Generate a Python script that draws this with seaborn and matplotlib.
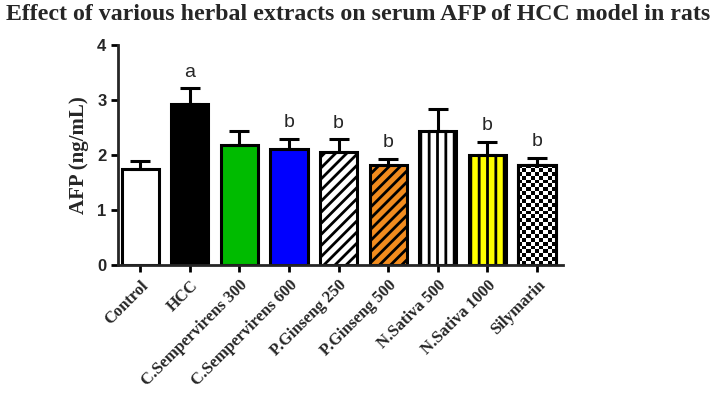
import numpy as np
import matplotlib.pyplot as plt
import seaborn as sns

# Mean AFP and SEM
groups = ['Control', 'HCC', 'C.Sempervirens 300', 'C.Sempervirens 600',
          'P.Ginseng 250', 'P.Ginseng 500', 'N.Sativa 500', 'N.Sativa 1000', 'Silymarin']
afp_mean = [1.74, 2.93, 2.17, 2.10, 2.05, 1.81, 2.44, 2.00, 1.82]
afp_sem = [0.14, 0.28, 0.26, 0.19, 0.23, 0.12, 0.39, 0.24, 0.13]
sig_letters = ['', 'a', '', 'b', 'b', 'b', '', 'b', 'b']

bar_colors = ['white', 'black', '#00BB00', '#0000FF', 'white', '#F28C1E',
              'white', '#FFFF00', 'white']
bar_hatches = [None, None, None, None, '///', '///', '||', '||', None]

sns.set_theme(style="ticks")
plt.rcParams['hatch.linewidth'] = 2.0
plt.rcParams['axes.linewidth'] = 2.0

fig = plt.figure(figsize=(7.17, 3.93), dpi=100)
ax = fig.add_axes([0.165, 0.326, 0.62, 0.56])

sns.barplot(x=groups, y=afp_mean, hue=groups, palette=bar_colors, legend=False,
            width=0.75, edgecolor='black', linewidth=2.2, ax=ax, saturation=1)

centers = []
for p, h in zip(ax.patches, bar_hatches):
    centers.append(p.get_x() + p.get_width() / 2)
    if h:
        p.set_hatch(h)

# checkerboard fill for Silymarin, clipped to its bar
sp = ax.patches[-1]
board = np.indices((26, 9)).sum(axis=0) % 2
img = ax.imshow(board, cmap='gray', interpolation='nearest', aspect='auto',
                extent=(sp.get_x(), sp.get_x() + sp.get_width(), 0, sp.get_height()),
                zorder=sp.get_zorder() + 0.1)
img.set_clip_path(sp)
# redraw edge on top
ax.bar(centers[-1], afp_mean[-1], width=sp.get_width(), fill=False,
       edgecolor='black', linewidth=2.2, zorder=sp.get_zorder() + 0.2)

ax.errorbar(centers, afp_mean, yerr=[np.zeros(len(afp_sem)), afp_sem], fmt='none',
            ecolor='black', elinewidth=2.2, capsize=7, capthick=2.2, zorder=1)

for c, m, s, lt in zip(centers, afp_mean, afp_sem, sig_letters):
    if lt:
        ax.text(c, m + s + 0.14, lt, ha='center', va='bottom', fontsize=14,
                family='Liberation Sans')

ax.set_xlim(-0.44, len(groups) - 0.48)
ax.set_ylim(0, 4)
ax.set_yticks([0, 1, 2, 3, 4])
sns.despine(ax=ax)
ax.tick_params(axis='both', width=2, length=5, direction='out', color='black')
for t in ax.get_yticklabels():
    t.set_fontfamily('Liberation Sans')
    t.set_fontweight('bold')
    t.set_fontsize(12)
ax.set_xticks(range(len(groups)))
ax.set_xticklabels(groups, rotation=45, ha='right', rotation_mode='anchor',
                   fontfamily='Liberation Serif', fontweight='bold', fontsize=12)
ax.tick_params(axis='x', pad=4)
ax.set_xlabel('')
ax.set_ylabel('AFP (ng/mL)', fontfamily='Liberation Serif', fontweight='bold',
              fontsize=15, labelpad=6)

fig.suptitle('Effect of various herbal extracts on serum AFP of HCC model in rats',
             fontfamily='Liberation Serif', fontweight='bold', fontsize=17.2, y=0.99)

plt.savefig('out.png', dpi=100)
